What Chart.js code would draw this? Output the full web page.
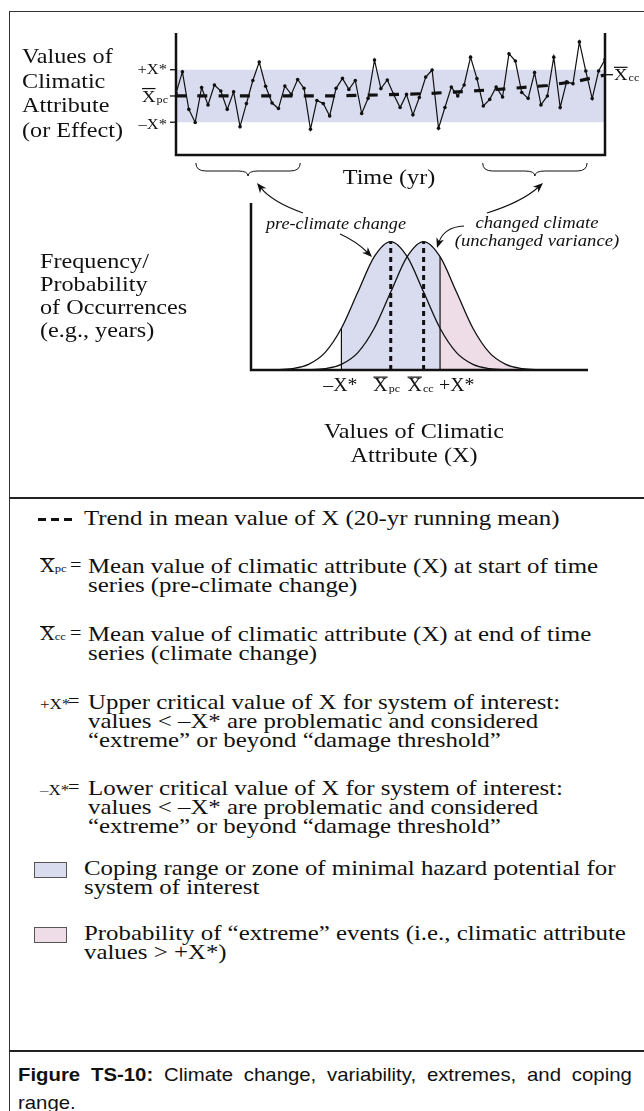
<!DOCTYPE html>
<html lang="en">
<head>
<meta charset="UTF-8">
<title>Figure TS-10</title>
<script src="https://cdn.jsdelivr.net/npm/chart.js@4"></script>
<style>
  html, body { margin: 0; padding: 0; background: #fff; }
  body { position: relative; width: 644px; height: 1111px; overflow: hidden; color: #111;
         font-family: "Liberation Serif", "Times New Roman", serif; }
  canvas { position: absolute; left: 0; }
  .frame { position: absolute; left: 9px; top: 11px; width: 700px; height: 1200px;
           border-left: 1.5px solid #333; border-top: 1.5px solid #333; }
  .rule { position: absolute; left: 9px; width: 640px; border-top: 2px solid #222; }
  .t { position: absolute; white-space: nowrap; font-size: 22px; line-height: 24px;
       transform: scaleX(1.1); transform-origin: 0 0; }
  .c { text-align: center; transform-origin: 50% 0; }
  .i { font-style: italic; font-size: 16.5px; line-height: 18px; }
  .lg { font-size: 22px; line-height: 19px; transform: scaleX(1.13); }
  .eq { font-size: 18px; }
  .xs { font-size: 18px; }
  .ob { display: inline-block; line-height: 0.74em; padding-top: 1px; border-top: 1.2px solid #111; }
  .sb { font-size: 62%; }
  .sm { font-size: 15px; }
  .sw { position: absolute; left: 34px; width: 31px; height: 14px; border: 1.5px solid #555; }
  .dash { position: absolute; top: 518px; width: 8px; height: 3px; background: #111; }
  .cap { position: absolute; left: 18px; top: 1061px; width: 558px;
         font-family: "Liberation Sans", Arial, sans-serif; font-size: 18.5px; line-height: 28px;
         text-align: justify; transform: scaleX(1.1); transform-origin: 0 0; }
</style>
</head>
<body>
<div class="frame"></div>
<div class="rule" style="top:497px"></div>
<div class="rule" style="top:1050px"></div>

<canvas id="series" width="644" height="180" style="top:0"></canvas>
<canvas id="bell" width="644" height="280" style="top:140px"></canvas>

<!-- labels of the diagram -->
<div class="t" style="left:22px;top:44px;line-height:24.5px">Values of<br>Climatic<br>Attribute<br>(or Effect)</div>
<div class="t c" style="left:289px;top:165px;width:200px">Time (yr)</div>
<div class="t i" style="left:266px;top:215px">pre-climate change</div>
<div class="t i c" style="left:437px;top:214px;width:200px;font-size:17px">changed climate<br>(unchanged variance)</div>
<div class="t" style="left:40px;top:249px;line-height:23px">Frequency/<br>Probability<br>of Occurrences<br>(e.g., years)</div>
<div class="t c" style="left:314px;top:419px;width:200px">Values of Climatic<br>Attribute (X)</div>

<!-- key -->
<div class="dash" style="left:38px"></div>
<div class="dash" style="left:51px"></div>
<div class="dash" style="left:64px"></div>
<div class="t lg" style="left:84px;top:508px">Trend in mean value of X (20-yr running mean)</div>

<div class="t lg xs" style="left:40px;top:557px"><span class="ob">X</span><span class="sb">pc</span></div>
<div class="t lg eq" style="left:70px;top:556px">=</div>
<div class="t lg" style="left:88px;top:556px">Mean value of climatic attribute (X) at start of time<br>series (pre-climate change)</div>

<div class="t lg xs" style="left:40px;top:625px"><span class="ob">X</span><span class="sb">cc</span></div>
<div class="t lg eq" style="left:70px;top:624px">=</div>
<div class="t lg" style="left:88px;top:624px">Mean value of climatic attribute (X) at end of time<br>series (climate change)</div>

<div class="t lg" style="left:40px;top:692px"><span class="sm">+X*</span></div>
<div class="t lg eq" style="left:68px;top:692px">=</div>
<div class="t lg" style="left:88px;top:692px">Upper critical value of X for system of interest:<br>values &lt; &ndash;X* are problematic and considered<br>&ldquo;extreme&rdquo; or beyond &ldquo;damage threshold&rdquo;</div>

<div class="t lg" style="left:40px;top:778px"><span class="sm">&ndash;X*</span></div>
<div class="t lg eq" style="left:68px;top:778px">=</div>
<div class="t lg" style="left:88px;top:778px">Lower critical value of X for system of interest:<br>values &lt; &ndash;X* are problematic and considered<br>&ldquo;extreme&rdquo; or beyond &ldquo;damage threshold&rdquo;</div>

<div class="sw" style="top:862px;background:#d9dcee"></div>
<div class="t lg" style="left:84px;top:858px">Coping range or zone of minimal hazard potential for<br>system of interest</div>

<div class="sw" style="top:927px;background:#eedde7"></div>
<div class="t lg" style="left:84px;top:923px">Probability of &ldquo;extreme&rdquo; events (i.e., climatic attribute<br>values &gt; +X*)</div>

<div class="cap"><b>Figure TS-10:</b> Climate change, variability, extremes, and coping range.</div>

<script>
// ---------- data ----------
// top panel: yearly values, scaled so that X̄pc = 0 and the critical values ±X* = ±1
const years = [1,2,3,4,5,6,7,8,9,10,11,12,13,14,15,16,17,18,19,20,21,22,23,24,25,26,27,28,29,30,31,32,33,34,
  35,36,37,38,39,40,41,42,43,44,45,46,47,48,49,50,51,52,53,54,55,56,57,58,59,60,61,62,63,64,65,66,67,68];
const values = [0.1, 0.92, -0.51, -1.01, 0.32, -0.34, 0.42, 0.19, -0.51, 0.16, -1.17, -0.29, 0.59, 1.29,
  0.37, -0.27, -0.48, 0.38, 0.06, 0.63, 0.29, -1.27, -0.17, -0.29, -0.76, 0.29, 0.67, 0.25, 0.59, -0.67,
  -0.09, 1.37, 0.28, 0.61, 0.06, -0.44, 0.06, -0.72, -0.06, 0.72, 0.99, -1.23, -0.44, 0.34, 0.0, 0.42,
  1.48, 0.66, -0.38, -0.13, 0.34, -0.04, 1.61, 1.33, 0.13, -0.09, 0.89, -0.34, 0.0, 1.48, -0.44, 0.54,
  0.47, 2.06, 0.95, -0.1, 0.95, 1.39];
// 20-yr running mean (the dashed trend), sampled where it bends
const trendYears = [1, 25, 33, 40, 46, 53, 59, 64, 68];
const trendValues = [0, 0, 0.04, 0.09, 0.17, 0.28, 0.4, 0.58, 0.8];
const criticalValues = [-1, 1];   // −X*, +X*
const meanPre = 0;                // X̄pc
const meanChanged = 0.81;         // X̄cc, end of series

// lower panel: frequency curves (peak = 1), x in standard deviations from X̄pc
const bellX = [-4.5, -4, -3.5, -3, -2.5, -2, -1.5, -1, -0.5, 0, 0.5, 1, 1.5, 2, 2.5, 3, 3.5, 4, 4.5, 5, 5.5, 6];
const pcFreq = [0, 0.0003, 0.0022, 0.0111, 0.0439, 0.1353, 0.3247, 0.6065, 0.8825, 1, 0.8825, 0.6065,
  0.3247, 0.1353, 0.0439, 0.0111, 0.0022, 0.0003, 0, 0, 0, 0];
const ccFreq = [0, 0, 0, 0.0003, 0.0022, 0.0111, 0.0439, 0.1353, 0.3247, 0.6065, 0.8825, 1, 0.8825,
  0.6065, 0.3247, 0.1353, 0.0439, 0.0111, 0.0022, 0.0003, 0, 0];
const bellMeans = [0, 1];               // X̄pc, X̄cc
const bellCritical = [-1.5, 1.5];       // −X*, +X*
const bellCriticalTop = [0.3247, 0.8825];

// ---------- drawing helpers ----------
const SX = 1.1; // the reference type is a little wider than Liberation Serif
const SERIF = '"Liberation Serif", "Times New Roman", serif';
const INK = '#111';
const BLUE = '#d9dcee';
const PINK = '#eedde7';

// symbol like X̄pc or +X*, y is the vertical middle of the capital
function sym(ctx, x, y, main, sub, opt) {
  const s = opt.size, subS = Math.round(s * 0.62);
  ctx.save();
  ctx.font = s + 'px ' + SERIF;
  const wm = ctx.measureText(main).width;
  ctx.font = subS + 'px ' + SERIF;
  const ws = sub ? ctx.measureText(sub).width + 1 : 0;
  const w = (wm + ws) * SX;
  const left = opt.align === 'right' ? x - w : opt.align === 'center' ? x - w / 2 : x;
  ctx.translate(left, y + s * 0.33);
  ctx.scale(SX, 1);
  ctx.fillStyle = INK;
  ctx.textAlign = 'left';
  ctx.textBaseline = 'alphabetic';
  ctx.font = s + 'px ' + SERIF;
  ctx.fillText(main, 0, 0);
  if (opt.bar) ctx.fillRect(0, -s * 0.8, wm, 1.2);
  if (sub) {
    ctx.font = subS + 'px ' + SERIF;
    ctx.fillText(sub, wm + 1, s * 0.06);
  }
  ctx.restore();
}

function brace(ctx, x1, x2, y) {
  const m = (x1 + x2) / 2;
  ctx.beginPath();
  ctx.moveTo(x1, y);
  ctx.quadraticCurveTo(x1, y + 8, x1 + 10, y + 8);
  ctx.lineTo(m - 10, y + 8);
  ctx.quadraticCurveTo(m, y + 8, m, y + 13);
  ctx.quadraticCurveTo(m, y + 8, m + 10, y + 8);
  ctx.lineTo(x2 - 10, y + 8);
  ctx.quadraticCurveTo(x2, y + 8, x2, y);
  ctx.stroke();
}

function arrow(ctx, x0, y0, cx, cy, x1, y1) {
  const a = Math.atan2(y1 - cy, x1 - cx), c = Math.cos(a), s = Math.sin(a);
  ctx.beginPath();
  ctx.moveTo(x0, y0);
  ctx.quadraticCurveTo(cx, cy, x1 - 6 * c, y1 - 6 * s);
  ctx.stroke();
  const bx = x1 - 10 * c, by = y1 - 10 * s;
  ctx.beginPath();
  ctx.moveTo(x1, y1);
  ctx.lineTo(bx + 4 * s, by - 4 * c);
  ctx.lineTo(x1 - 7 * c, y1 - 7 * s);
  ctx.lineTo(bx - 4 * s, by + 4 * c);
  ctx.closePath();
  ctx.fill();
}

// fill the area under one curve, only between two x values
function fillUnder(chart, index, xFrom, xTo, color) {
  const {ctx, chartArea, scales} = chart;
  const line = chart.getDatasetMeta(index).dataset;
  const base = scales.y.getPixelForValue(0);
  const a = xFrom === null ? chartArea.left : scales.x.getPixelForValue(xFrom);
  const b = xTo === null ? chartArea.right : scales.x.getPixelForValue(xTo);
  const pts = line.points;
  ctx.save();
  ctx.beginPath();
  ctx.rect(a, chartArea.top, b - a, base - chartArea.top);
  ctx.clip();
  line.updateControlPoints(chartArea, 'x');
  ctx.beginPath();
  line.path(ctx);
  ctx.lineTo(pts[pts.length - 1].x, base);
  ctx.lineTo(pts[0].x, base);
  ctx.closePath();
  ctx.fillStyle = color;
  ctx.fill();
  ctx.restore();
}

// ---------- top panel: time series ----------
const seriesDecor = {
  id: 'seriesDecor',
  beforeDatasetsDraw(chart) {
    const {ctx, chartArea: ca, scales: {y}} = chart;
    const top = y.getPixelForValue(criticalValues[1]);
    const bot = y.getPixelForValue(criticalValues[0]);
    ctx.save();
    ctx.fillStyle = BLUE;
    ctx.fillRect(ca.left, top, ca.right - ca.left, bot - top);
    ctx.restore();
  },
  afterDatasetsDraw(chart) {
    const {ctx, chartArea: ca, scales: {x, y}} = chart;
    ctx.save();
    ctx.strokeStyle = INK;
    ctx.lineWidth = 2.5;
    ctx.beginPath();
    ctx.moveTo(ca.left, ca.top);
    ctx.lineTo(ca.left, ca.bottom);
    ctx.lineTo(ca.right, ca.bottom);
    ctx.lineTo(ca.right, ca.top);
    ctx.stroke();
    ctx.lineWidth = 1.3;
    [criticalValues[1], meanPre, criticalValues[0]].forEach(v => {
      const py = y.getPixelForValue(v);
      ctx.beginPath(); ctx.moveTo(ca.left - 6, py); ctx.lineTo(ca.left, py); ctx.stroke();
    });
    const pcc = y.getPixelForValue(meanChanged);
    ctx.beginPath(); ctx.moveTo(ca.right, pcc); ctx.lineTo(ca.right + 8, pcc); ctx.stroke();
    sym(ctx, ca.left - 9, y.getPixelForValue(criticalValues[1]) - 1, '+X*', '', {size: 15, align: 'right'});
    sym(ctx, ca.left - 8, y.getPixelForValue(meanPre), 'X', 'pc', {size: 17, align: 'right', bar: true});
    sym(ctx, ca.left - 9, y.getPixelForValue(criticalValues[0]) + 2, '\u2013X*', '', {size: 15, align: 'right'});
    sym(ctx, ca.right + 9, pcc, 'X', 'cc', {size: 17, align: 'left', bar: true});
    // braces marking the start and end periods
    ctx.lineWidth = 1;
    brace(ctx, x.getPixelForValue(4.1), x.getPixelForValue(20.4), ca.bottom + 8);
    brace(ctx, x.getPixelForValue(48.9), x.getPixelForValue(65.2), ca.bottom + 8);
    ctx.restore();
  }
};

new Chart(document.getElementById('series'), {
  type: 'line',
  data: {
    datasets: [{
      data: years.map((yr, i) => ({x: yr, y: values[i]})),
      borderColor: INK,
      borderWidth: 1.2,
      pointRadius: 1.8,
      pointBackgroundColor: INK,
      pointBorderWidth: 0,
      tension: 0
    }, {
      data: trendYears.map((yr, i) => ({x: yr, y: trendValues[i]})),
      borderColor: INK,
      borderWidth: 3.2,
      borderDash: [10, 11.3],
      pointRadius: 0,
      tension: 0
    }]
  },
  options: {
    responsive: false,
    animation: false,
    events: [],
    layout: {padding: {left: 176, right: 39, top: 33, bottom: 25}},
    plugins: {legend: {display: false}, tooltip: {enabled: false}},
    scales: {
      x: {type: 'linear', min: 1, max: 68, display: false},
      y: {min: -2.25, max: 2.4, display: false}
    }
  },
  plugins: [seriesDecor]
});

// ---------- lower panel: frequency curves ----------
const bellDecor = {
  id: 'bellDecor',
  beforeDatasetsDraw(chart) {
    fillUnder(chart, 0, bellCritical[0], bellCritical[1], BLUE);
    fillUnder(chart, 1, bellCritical[0], bellCritical[1], BLUE);
    fillUnder(chart, 1, bellCritical[1], null, PINK);
  },
  afterDatasetsDraw(chart) {
    const {ctx, chartArea: ca, scales: {x}} = chart;
    ctx.save();
    ctx.strokeStyle = INK;
    ctx.fillStyle = INK;
    ctx.lineWidth = 2.5;
    ctx.beginPath();
    ctx.moveTo(ca.left, ca.top);
    ctx.lineTo(ca.left, ca.bottom);
    ctx.lineTo(ca.right, ca.bottom);
    ctx.stroke();
    const ly = ca.bottom + 15;
    sym(ctx, x.getPixelForValue(bellCritical[0]) - 1, ly, '\u2013X*', '', {size: 18, align: 'center'});
    sym(ctx, x.getPixelForValue(bellMeans[0]) - 4, ly, 'X', 'pc', {size: 18, align: 'center', bar: true});
    sym(ctx, x.getPixelForValue(bellMeans[1]) - 3, ly, 'X', 'cc', {size: 18, align: 'center', bar: true});
    sym(ctx, x.getPixelForValue(bellCritical[1]) - 1, ly, '+X*', '', {size: 18, align: 'left'});
    // call-out arrows (page y minus the 140px canvas offset)
    ctx.lineWidth = 1.1;
    arrow(ctx, 303, 73, 272, 62, 257, 43);
    arrow(ctx, 340, 94, 356, 101, 372, 117);
    arrow(ctx, 487, 73, 522, 62, 543, 43);
    arrow(ctx, 464, 86, 444, 87, 437, 108);
    ctx.restore();
  }
};

const curve = (ys) => bellX.map((v, i) => ({x: v, y: ys[i]}));
const vline = (xv, top, dash, w) => ({
  data: [{x: xv, y: 0}, {x: xv, y: top}],
  borderColor: INK, borderWidth: w, borderDash: dash, pointRadius: 0
});

new Chart(document.getElementById('bell'), {
  type: 'line',
  data: {
    datasets: [
      {data: curve(pcFreq), borderColor: INK, borderWidth: 1.3, pointRadius: 0, cubicInterpolationMode: 'monotone'},
      {data: curve(ccFreq), borderColor: INK, borderWidth: 1.3, pointRadius: 0, cubicInterpolationMode: 'monotone'},
      vline(bellMeans[0], 1, [5, 4], 3),
      vline(bellMeans[1], 1, [5, 4], 3),
      vline(bellCritical[0], bellCriticalTop[0], [], 1.2),
      vline(bellCritical[1], bellCriticalTop[1], [], 1.2)
    ]
  },
  options: {
    responsive: false,
    animation: false,
    events: [],
    layout: {padding: {left: 251, right: 56, top: 63, bottom: 50}},
    plugins: {legend: {display: false}, tooltip: {enabled: false}},
    scales: {
      x: {type: 'linear', min: -4.25, max: 6, display: false},
      y: {min: 0, max: 1.3, display: false}
    }
  },
  plugins: [bellDecor]
});
</script>
</body>
</html>
